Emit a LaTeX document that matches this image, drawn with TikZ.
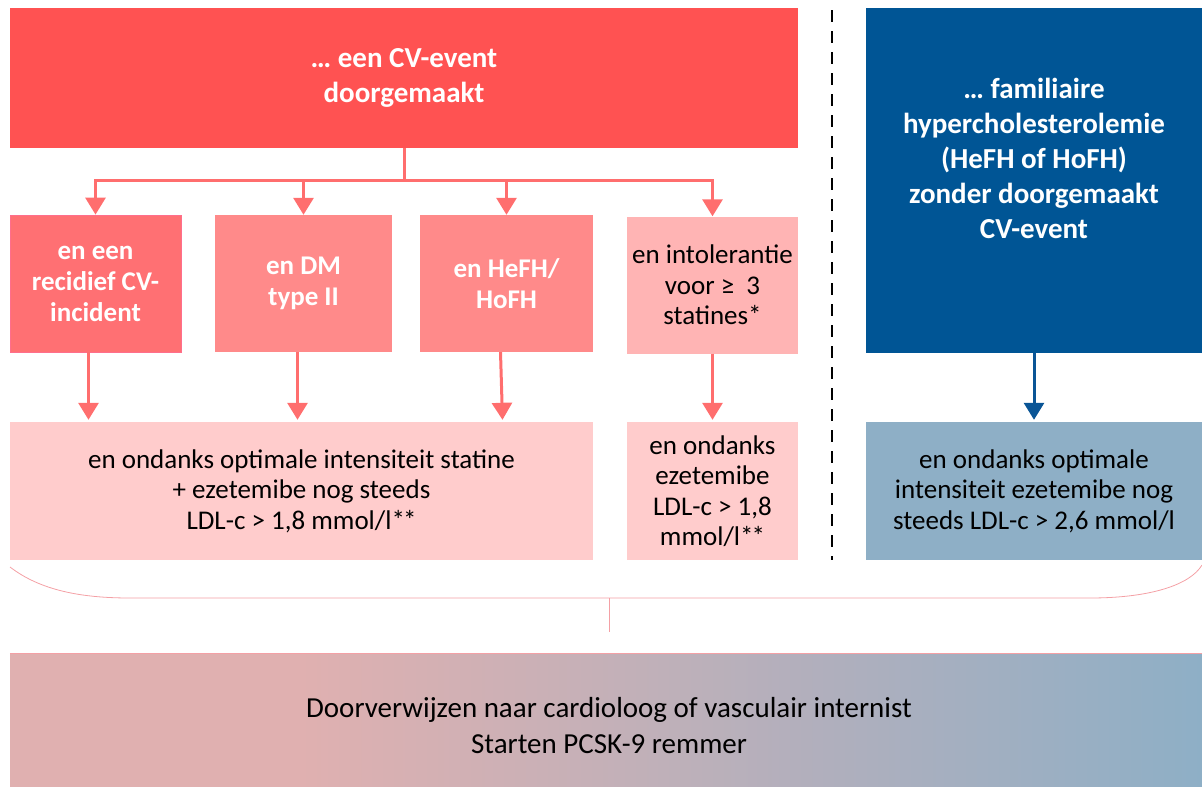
\documentclass[tikz,border=0pt]{standalone}
\usepackage{fontspec}
\setmainfont{Carlito}
\usetikzlibrary{arrows.meta,calc}
\definecolor{topred}{RGB}{255,82,82}
\definecolor{boxa}{RGB}{255,112,115}
\definecolor{boxaedge}{RGB}{255,110,140}
\definecolor{boxb}{RGB}{255,138,138}
\definecolor{boxc}{RGB}{255,180,180}
\definecolor{boxd}{RGB}{255,204,204}
\definecolor{darkblue}{RGB}{0,85,149}
\definecolor{lightblue}{RGB}{142,175,198}
\definecolor{arrred}{RGB}{255,110,110}
\definecolor{arrblue}{RGB}{10,85,150}
\definecolor{bracecol}{RGB}{244,160,165}
\definecolor{gradl}{RGB}{224,176,176}
\newcommand{\twostars}{*\kern-2pt*}
\tikzset{
  cell/.style={rectangle, inner sep=0pt, align=center, font=\fontsize{27}{30.5}\selectfont},
  boldcell/.style={cell, text=white, font=\fontsize{27}{31}\selectfont\bfseries,
    execute at begin node={\rule{0pt}{29pt}}},
  bigcell/.style={cell, text=white, font=\fontsize{29}{35}\selectfont\bfseries},
  redarrow/.style={draw=arrred, line width=3pt, -{Triangle[width=20pt,length=17pt]}},
  redline/.style={draw=arrred, line width=3pt},
  bluearrow/.style={draw=arrblue, line width=3pt, -{Triangle[width=20pt,length=17pt]}},
}
\begin{document}
\begin{tikzpicture}[x=1pt,y=-1pt]
\useasboundingbox (0,0) rectangle (1202,787);
% top red box
\node[bigcell, fill=topred, minimum width=788pt, minimum height=140pt] (top) at (404,78) {… een CV-event\\doorgemaakt};
% second row
\node[boldcell, fill=boxa, draw=boxaedge, line width=0.8pt, minimum width=171pt, minimum height=137pt] (b1) at (95.5,283.5) {en een\\recidief CV-\\incident};
\node[boldcell, fill=boxb, minimum width=177pt, minimum height=137pt] (b2) at (303.5,283.5) {en DM\\type II};
\node[boldcell, fill=boxb, minimum width=173pt, minimum height=137pt] (b3) at (506.5,283.5) {en HeFH/\\HoFH};
\node[cell, fill=boxc, minimum width=171pt, minimum height=137pt] (b4) at (712.5,285) {en intolerantie\\voor ≥\ \ 3\\statines*};
% third row
\node[cell, fill=boxd, minimum width=583pt, minimum height=138pt] (b5) at (301.5,491) {en ondanks optimale intensiteit statine\\+ ezetemibe nog steeds\\LDL-c > 1,8 mmol/l\twostars};
\node[cell, fill=boxd, minimum width=171pt, minimum height=138pt] (b6) at (712.5,491) {en ondanks\\ezetemibe\\LDL-c > 1,8\\mmol/l\twostars};
% blue column
\node[cell, fill=darkblue, minimum width=336pt, minimum height=345pt] (blue) at (1034,180.5) {};
\node[bigcell] (bluetxt) at (1034,158) {… familiaire\\hypercholesterolemie\\(HeFH of HoFH)\\zonder doorgemaakt\\CV-event};
\node[cell, fill=lightblue, minimum width=336pt, minimum height=138pt] (lb) at (1034,491) {en ondanks optimale\\intensiteit ezetemibe nog\\steeds LDL-c > 2,6 mmol/l};
% dashed separator
\coordinate (dtop) at (832,10);
\coordinate (dbot) at (832,560);
\draw[black, line width=1.5pt, dash pattern=on 12pt off 9pt] (dtop) -- (dbot);
% connectors
\draw[redline] (top.south) -- ++(0,32) coordinate (hub);
\draw[redarrow] (hub) -| (b1.north);
\draw[redarrow] (hub) -| (b2.north);
\draw[redarrow] (hub) -| (b3.north);
\draw[redarrow] (hub) -| (b4.north);
\draw[redarrow] ($(b1.south)+(-7,0)$) -- ($(b1.south |- b5.north)+(-7,-2)$);
\draw[redarrow] ($(b2.south)+(-6,0)$) -- ($(b2.south |- b5.north)+(-6,-2)$);
\draw[redarrow] ($(b3.south)+(-6,0)$) -- ($(b3.south |- b5.north)+(-4,-2)$);
\draw[redarrow] (b4.south) -- ($(b6.north)+(0,-2)$);
\draw[bluearrow] (blue.south) -- ($(lb.north)+(0,-2)$);
% bottom box
\node[cell, minimum width=1192pt, minimum height=134pt] (bottom) at (606,720) {};
\fill[gradl] (bottom.north west) rectangle (300,787);
\shade[left color=gradl, right color=lightblue] (300,653) rectangle (bottom.south east);
\draw[bracecol, line width=0.6pt] (bottom.north west) -- (bottom.north east);
\node[cell, font=\fontsize{29}{36}\selectfont] (bottomtxt) at (609,726) {Doorverwijzen naar cardioloog of vasculair internist\\Starten PCSK-9 remmer};
% brace
\coordinate (brl) at (10,567);
\coordinate (brr) at (1202,565);
\coordinate (brm) at (609,598);
\coordinate (brtip) at (609,632);
\draw[bracecol, line width=0.8pt] (brl) .. controls (40,590) and (80,598) .. (130,598) -- (1090,598) .. controls (1150,598) and (1190,585) .. (brr);
\draw[bracecol, line width=0.8pt] (brm) -- (brtip);
\end{tikzpicture}
\end{document}
